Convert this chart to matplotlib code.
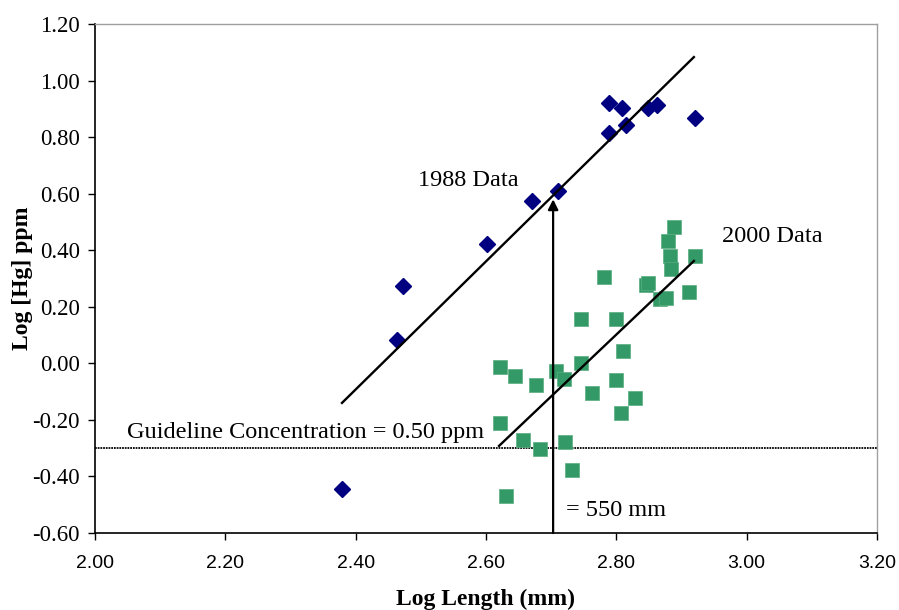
import numpy as np
import matplotlib
matplotlib.use("Agg")
import matplotlib.pyplot as plt

# 1988 data (log length mm, log Hg ppm)
len_1988 = [2.379, 2.463, 2.472, 2.601, 2.671, 2.711, 2.788, 2.788, 2.808, 2.815, 2.849, 2.862, 2.920]
hg_1988 = [-0.444, 0.083, 0.274, 0.421, 0.574, 0.609, 0.813, 0.920, 0.904, 0.843, 0.902, 0.914, 0.867]

# 2000 data
len_2000 = [2.889, 2.879, 2.882, 2.884, 2.920, 2.781, 2.846, 2.849, 2.867, 2.876,
            2.912, 2.746, 2.799, 2.810, 2.622, 2.645, 2.677, 2.707, 2.719, 2.746,
            2.763, 2.800, 2.828, 2.807, 2.621, 2.657, 2.683, 2.721, 2.732, 2.630]
hg_2000 = [0.481, 0.434, 0.380, 0.335, 0.381, 0.305, 0.277, 0.285, 0.226, 0.231,
           0.252, 0.158, 0.156, 0.043, -0.012, -0.046, -0.075, -0.027, -0.055, 0.001,
           -0.104, -0.059, -0.122, -0.176, -0.210, -0.270, -0.302, -0.277, -0.376, -0.469]

# trend line endpoints
fit_1988_x = [2.379, 2.919]
fit_1988_y = [-0.140, 1.083]
fit_2000_x = [2.620, 2.919]
fit_2000_y = [-0.292, 0.362]

guideline = np.log10(0.5)
cutoff = 2.703

serif = "Liberation Serif"
sans = "Liberation Sans"

fig = plt.figure(figsize=(8.99, 6.10), dpi=100)
ax = fig.add_axes([95 / 899, 1 - 533 / 610, 782 / 899, 509 / 610])

ax.axhline(guideline, color="black", lw=1.3, ls=(0, (1, 0.5)), zorder=1)

ax.plot(len_1988, hg_1988, ls="none", marker="D", ms=7.8, color="#000080", mec="#000080", zorder=3)
ax.plot(len_2000, hg_2000, ls="none", marker="s", ms=9.6, color="#339966", mec="#5aae80", mew=0.5, zorder=3)

ax.plot(fit_1988_x, fit_1988_y, color="black", lw=1.7, zorder=4)
ax.plot(fit_2000_x, fit_2000_y, color="black", lw=1.7, zorder=4)

ax.annotate("", xy=(cutoff, 0.58), xytext=(cutoff, -0.60),
            arrowprops=dict(arrowstyle="-|>", color="black", lw=1.6, mutation_scale=15,
                            shrinkA=0, shrinkB=0), zorder=5)

ax.text(2.496, 0.648, "1988 Data", family=serif, fontsize=17.5, va="center", ha="left")
ax.text(2.962, 0.450, "2000 Data", family=serif, fontsize=17.5, va="center", ha="left")
ax.text(2.049, -0.246, "Guideline Concentration = 0.50 ppm", family=serif, fontsize=17.5,
        va="center", ha="left")
ax.text(2.723, -0.519, "= 550 mm", family=serif, fontsize=17.5, va="center", ha="left")

ax.set_xlim(2.0, 3.2)
ax.set_ylim(-0.6, 1.2)
ax.set_xticks(np.arange(2.0, 3.21, 0.2))
ax.set_yticks(np.arange(-0.6, 1.21, 0.2))
ax.set_xticklabels([f"{v:.2f}" for v in np.arange(2.0, 3.21, 0.2)], family=sans, fontsize=14)
ax.set_yticklabels([f"{v:.2f}" for v in np.arange(-0.6, 1.21, 0.2)], family=serif, fontsize=16.4)
ax.tick_params(direction="out", length=5, width=1, color="black")
ax.tick_params(axis="y", pad=6)
ax.tick_params(axis="x", pad=11)

for s in ["top", "right"]:
    ax.spines[s].set_color("#a0a0a0")
    ax.spines[s].set_linewidth(1)
for s in ["left", "bottom"]:
    ax.spines[s].set_color("black")
    ax.spines[s].set_linewidth(1.2)

ax.set_xlabel("Log Length (mm)", family=serif, fontsize=17, fontweight="bold", labelpad=12)
ax.set_ylabel("Log [Hg] ppm", family=serif, fontsize=17, fontweight="bold", labelpad=-1)

fig.savefig("out.png", dpi=100)
